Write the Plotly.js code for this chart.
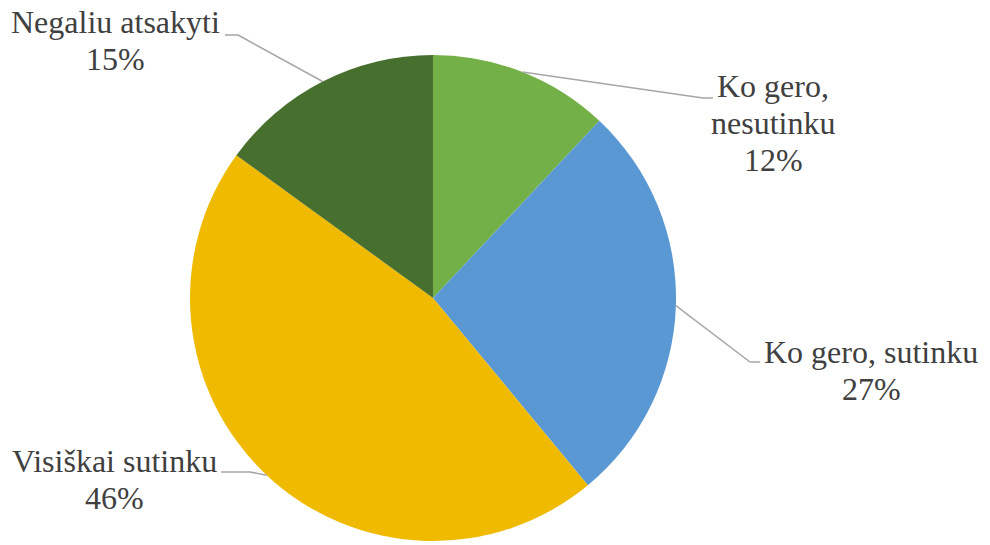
<!DOCTYPE html>
<html>
<head>
<meta charset="utf-8">
<script src="https://cdn.plot.ly/plotly-3.0.1.min.js"></script>
<style>
html,body{margin:0;padding:0;background:#fff;}
#chart text, #chart tspan { font-family: 'Liberation Serif', 'Times New Roman', serif !important; }
</style>
</head>
<body>
<div id="chart"></div>
<script>
// ---- data ----
var categories = ["Ko gero, nesutinku", "Ko gero, sutinku", "Visiškai sutinku", "Negaliu atsakyti"];
var values = [12, 27, 46, 15];
var labelLines = [["Ko gero,", "nesutinku"], ["Ko gero, sutinku"], ["Visiškai sutinku"], ["Negaliu atsakyti"]];
var colors = ["#73B047", "#5A98D4", "#EFBA00", "#476F2E"];

// ---- layout constants (pixels) ----
var W = 990, H = 545;
var cx = 433, cy = 298, R = 243;
var fontSize = 32, lineGap = 37;
// label placement: text centre x, first baseline y, leader elbow and end points
var labelPos = [
  {x: 773, base: 97, elbow: [703, 98], end: [713, 98]},
  {x: 871, base: 363, elbow: [750, 362], end: [760, 362]},
  {x: 114, base: 472, elbow: [250, 472], end: [221, 472]},
  {x: 115, base: 33, elbow: [238, 35], end: [225, 35]}
];

function px(x) { return x / W; }
function py(y) { return 1 - y / H; }

var total = values.reduce(function (a, b) { return a + b; }, 0);
var annotations = [], shapes = [];
var cum = 0;
values.forEach(function (v, i) {
  var mid = (cum + v / 2) / total * 2 * Math.PI;
  cum += v;
  var sx = cx + R * Math.sin(mid), sy = cy - R * Math.cos(mid);
  var p = labelPos[i];
  var lineStyle = {color: "#A6A6A6", width: 1.5};
  shapes.push({type: "line", xref: "paper", yref: "paper", x0: px(sx), y0: py(sy), x1: px(p.elbow[0]), y1: py(p.elbow[1]), line: lineStyle});
  shapes.push({type: "line", xref: "paper", yref: "paper", x0: px(p.elbow[0]), y0: py(p.elbow[1]), x1: px(p.end[0]), y1: py(p.end[1]), line: lineStyle});
  var lines = labelLines[i].concat([Math.round(v / total * 100) + "%"]);
  lines.forEach(function (t, k) {
    annotations.push({
      text: '<span style="font-family:Liberation Serif">' + t + '</span>',
      xref: "paper", yref: "paper", showarrow: false,
      x: px(p.x), y: py(p.base + k * lineGap - fontSize * 0.34),
      xanchor: "center", yanchor: "middle",
      font: {family: "Liberation Serif", size: fontSize, color: "#404040"}
    });
  });
});

var trace = {
  type: "pie",
  labels: categories,
  values: values,
  sort: false,
  direction: "clockwise",
  rotation: 0,
  textinfo: "none",
  hoverinfo: "label+percent",
  marker: {colors: colors, line: {width: 0}},
  domain: {x: [px(cx - R), px(cx + R)], y: [py(cy + R), py(cy - R)]},
  showlegend: false
};

var layout = {
  width: W, height: H,
  margin: {l: 0, r: 0, t: 0, b: 0},
  paper_bgcolor: "#ffffff",
  font: {family: "Liberation Serif"},
  showlegend: false,
  annotations: annotations,
  shapes: shapes
};

Plotly.newPlot("chart", [trace], layout, {displayModeBar: false, staticPlot: true});
</script>
</body>
</html>
